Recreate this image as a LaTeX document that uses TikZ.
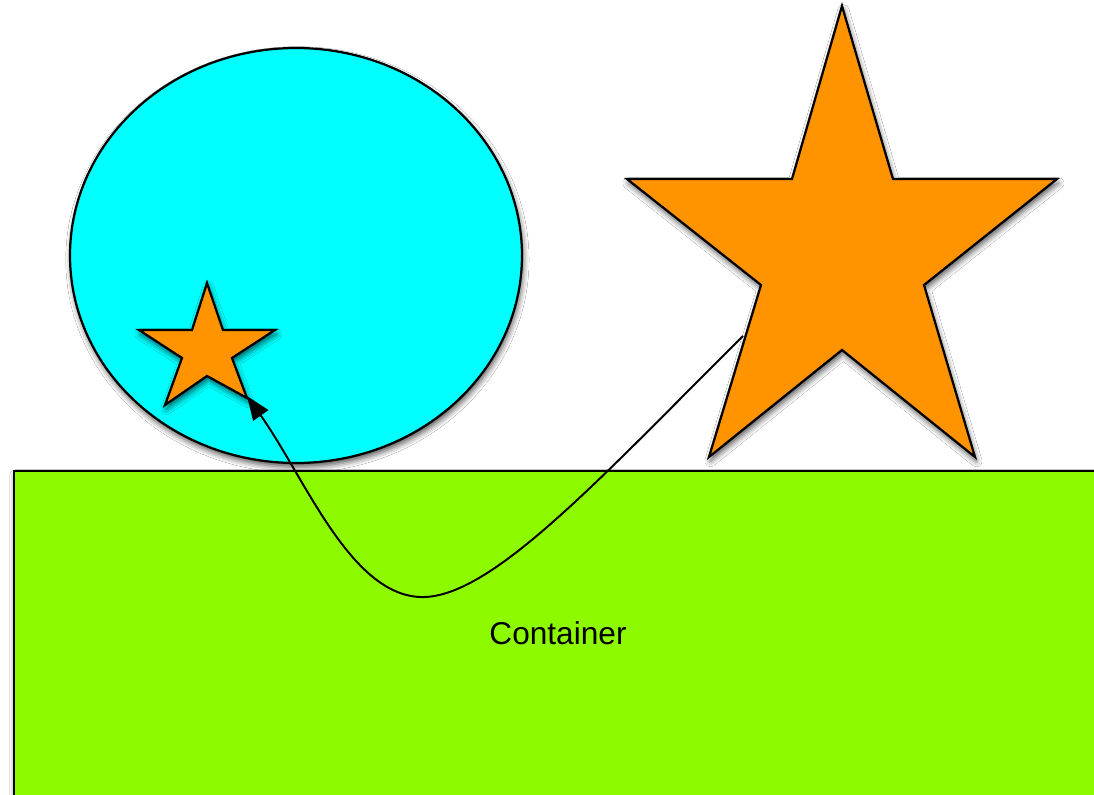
\documentclass[tikz,border=0pt]{standalone}
\usepackage{fontspec}
\setmainfont{Liberation Sans}
\usetikzlibrary{shadows.blur,arrows.meta}
\definecolor{shapecyan}{RGB}{0,255,255}
\definecolor{shapeorange}{RGB}{255,147,0}
\definecolor{shapegreen}{RGB}{142,250,0}
\begin{document}
\begin{tikzpicture}[x=0.025cm,y=-0.025cm,
  figure/.style={draw=black,line width=1.6pt,line join=miter,
    blur shadow={shadow xshift=1pt,shadow yshift=-3pt,shadow blur radius=4pt,shadow opacity=65}},
  link/.style={line width=1.4pt,opacity=1,-{Triangle[length=17pt,width=13pt,fill=black]}}]
\clip (0,0) rectangle (1094,795);
\fill[white] (0,0) rectangle (1094,795);
\filldraw[figure,fill=shapecyan] (296,255.5) ellipse [x radius=226,y radius=207.5];
\filldraw[figure,fill=shapeorange] (207,283)--(223,330)--(275,330)--(232,358)--(247,398)
  --(207,376)--(165,405)--(182,358)--(139,330)--(192,330)--cycle;
\filldraw[figure,fill=shapeorange] (842,6)--(893,179)--(1057,179)--(924,285)--(975,457)
  --(842,350)--(709,457)--(761,285)--(627,179)--(792,179)--cycle;
\filldraw[figure,fill=shapegreen] (14,471) rectangle (1120,820);
\node[font=\fontsize{22.5}{27}\selectfont] (container) at (558,633) {Container};
\coordinate (bigstar) at (743,336);
\coordinate (smallstar) at (247,396);
\draw[link] (bigstar) .. controls (600,478) and (490,600) .. (420,597)
  .. controls (350,594) and (305,478) .. (smallstar);
\end{tikzpicture}
\end{document}
